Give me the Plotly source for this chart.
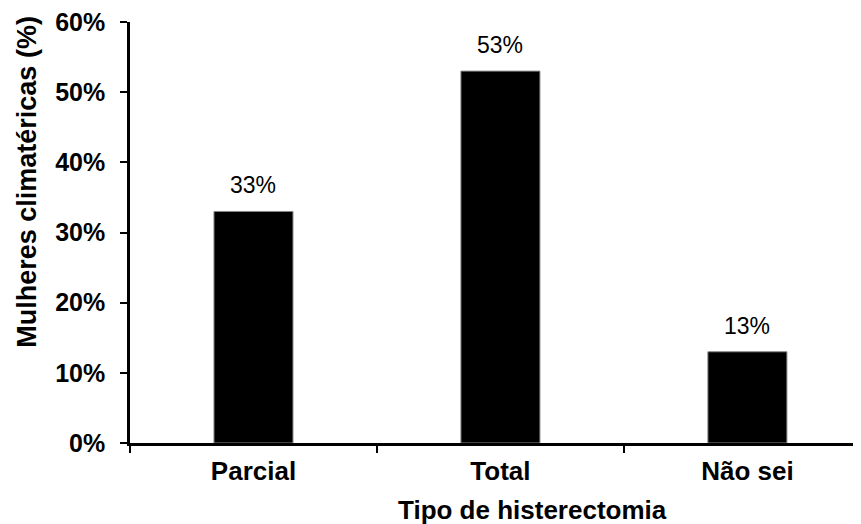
import plotly.graph_objects as go

categories = ["Parcial", "Total", "Não sei"]
values = [0.33, 0.53, 0.13]
value_labels = ["33%", "53%", "13%"]
y_title = "Mulheres climatéricas (%)"
x_title = "Tipo de histerectomia"

FONT = "Liberation Sans, Arial, sans-serif"

fig = go.Figure()
fig.add_trace(go.Bar(
    x=categories, y=values, width=0.32,
    marker=dict(color="black", line=dict(color="#888888", width=1)),
    hoverinfo="skip",
))

for c, v, t in zip(categories, values, value_labels):
    fig.add_annotation(x=c, y=v, text=t, showarrow=False, yanchor="bottom",
                       yshift=11, font=dict(family=FONT, size=23, color="black"))

fig.add_annotation(xref="paper", yref="paper", x=-0.142, y=0.621, text=y_title,
                   textangle=-90, showarrow=False, xanchor="center", yanchor="middle",
                   font=dict(family=FONT, size=27, color="black", weight="bold"))
fig.add_annotation(xref="paper", yref="paper", x=0.55, y=-0.158, text=x_title,
                   showarrow=False, xanchor="center", yanchor="middle",
                   font=dict(family=FONT, size=26, color="black", weight="bold"))

fig.update_layout(
    width=853, height=516,
    margin=dict(l=122, r=0, t=11.5, b=81, pad=0),
    paper_bgcolor="white", plot_bgcolor="white",
    showlegend=False,
    xaxis=dict(
        type="category", range=[-0.5, 2.46],
        showline=True, linecolor="black", linewidth=2.5,
        ticks="outside", tickson="boundaries", ticklen=7, tickwidth=1.5, tickcolor="black",
        ticklabelstandoff=3,
        tickfont=dict(family=FONT, size=26, color="black", weight="bold"),
        showgrid=False, zeroline=False, fixedrange=True,
    ),
    yaxis=dict(
        range=[0, 0.6], dtick=0.1, tickformat=".0%",
        showline=True, linecolor="black", linewidth=2.5,
        ticks="outside", ticklen=7, tickwidth=1.5, tickcolor="black",
        ticklabelstandoff=10, ticklabeloverflow="allow",
        tickfont=dict(family=FONT, size=25, color="black", weight="bold"),
        showgrid=False, zeroline=False, fixedrange=True,
    ),
)

fig.write_html("out.html")
